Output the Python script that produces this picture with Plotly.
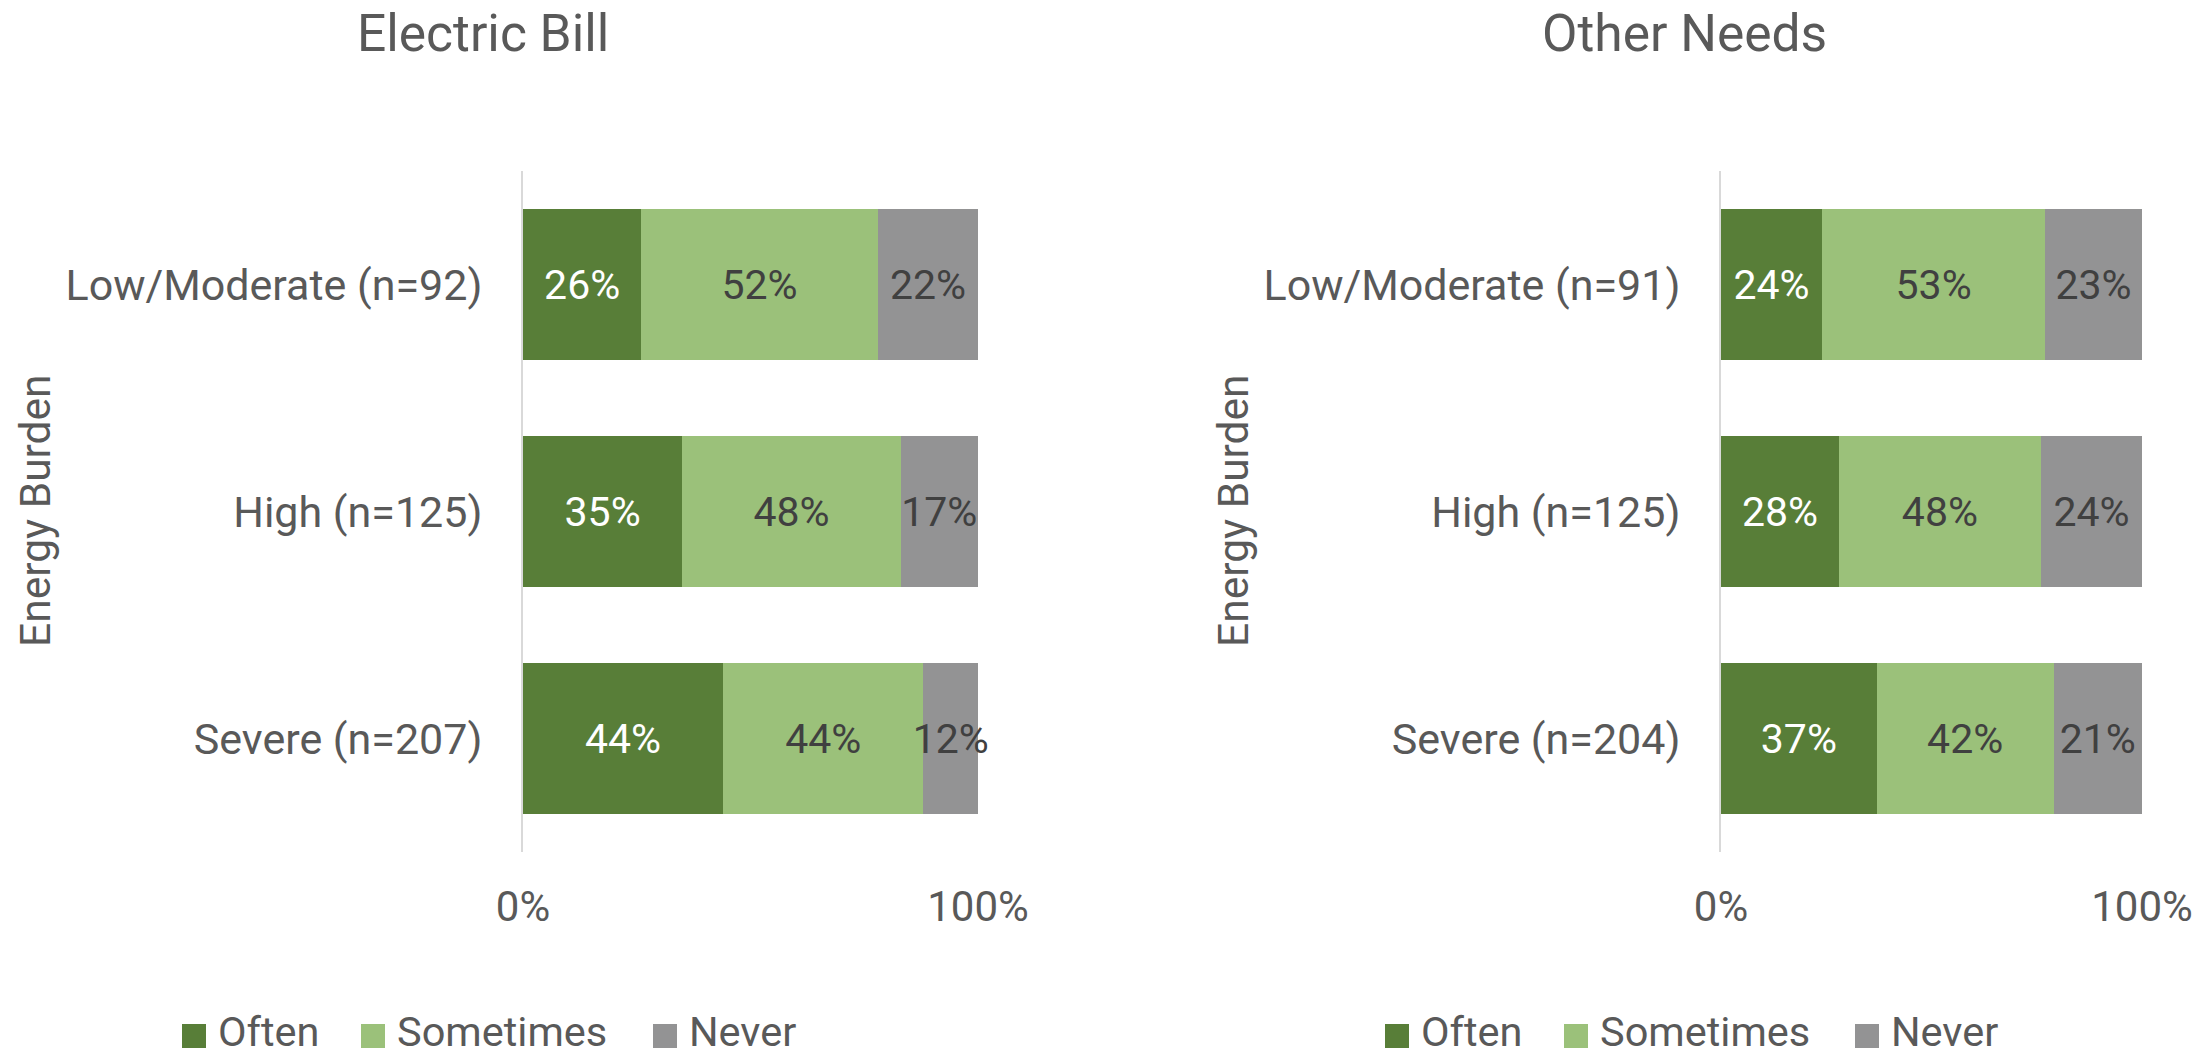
import plotly.graph_objects as go

# ---------------- data ----------------
categories = ["Low/Moderate (n=92)", "High (n=125)", "Severe (n=207)"]
categories_other = ["Low/Moderate (n=91)", "High (n=125)", "Severe (n=204)"]
series_names = ["Often", "Sometimes", "Never"]

electric_often = [26, 35, 44]
electric_sometimes = [52, 48, 44]
electric_never = [22, 17, 12]

other_often = [24, 28, 37]
other_sometimes = [53, 48, 42]
other_never = [23, 24, 21]

panel_titles = ["Electric Bill", "Other Needs"]
y_title = "Energy Burden"
x_tickvals = [0, 100]
x_ticktext = ["0%", "100%"]

# ---------------- style ----------------
W, H = 2198, 1051
FONT = "Roboto, 'Open Sans', Arial, sans-serif"
colors = ["#587E38", "#9BC17A", "#939394"]
label_colors = ["#FFFFFF", "#404040", "#404040"]
text_gray = "#595959"


def px(x):
    return x / W


def py(y):
    return 1 - y / H


fig = go.Figure()

panels = [
    (categories, [electric_often, electric_sometimes, electric_never], "x", "y"),
    (categories_other, [other_often, other_sometimes, other_never], "x2", "y2"),
]

for cats, vals, xa, ya in panels:
    for name, v, c, lc in zip(series_names, vals, colors, label_colors):
        fig.add_trace(go.Bar(
            y=cats, x=v, name=name, orientation="h",
            marker=dict(color=c, line=dict(width=0)),
            text=[f"{n}%" for n in v],
            textposition="inside", insidetextanchor="middle",
            textangle=0, constraintext="none", cliponaxis=False,
            textfont=dict(family=FONT, size=41, color=lc),
            xaxis=xa, yaxis=ya, showlegend=False,
            hoverinfo="skip",
        ))

ydom = [py(852), py(171)]
xaxis_common = dict(
    range=[0, 100], tickvals=x_tickvals, ticktext=x_ticktext,
    showgrid=False, zeroline=False, showline=False, ticks="",
    tickfont=dict(family=FONT, size=42, color=text_gray),
    ticklabelstandoff=26, automargin=False, fixedrange=True,
)
yaxis_common = dict(
    range=[2.5, -0.5], showgrid=False, zeroline=False,
    showline=True, linecolor="#D9D9D9", linewidth=2, ticks="",
    tickfont=dict(family=FONT, size=43, color=text_gray),
    ticklabelstandoff=30, automargin=False, fixedrange=True,
)

fig.update_layout(
    width=W, height=H,
    margin=dict(l=0, r=0, t=0, b=0),
    paper_bgcolor="white", plot_bgcolor="white",
    barmode="stack", bargap=0.337,
    font=dict(family=FONT, color=text_gray),
    showlegend=False,
    xaxis=dict(domain=[px(523), px(978)], anchor="y", **xaxis_common),
    xaxis2=dict(domain=[px(1721), px(2142)], anchor="y2", **xaxis_common),
    yaxis=dict(domain=ydom, anchor="x", **yaxis_common),
    yaxis2=dict(domain=ydom, anchor="x2", **yaxis_common),
)

annotations = []
shapes = []

# panel titles
for title, cx in zip(panel_titles, [483, 1684]):
    annotations.append(dict(
        text=title, x=px(cx), y=py(34), xref="paper", yref="paper",
        xanchor="center", yanchor="middle", showarrow=False,
        font=dict(family=FONT, size=51.5, color=text_gray),
    ))

# y axis titles
for cx in [36, 1234]:
    annotations.append(dict(
        text=y_title, x=px(cx), y=py(511), xref="paper", yref="paper",
        xanchor="center", yanchor="middle", showarrow=False, textangle=-90,
        font=dict(family=FONT, size=42.5, color=text_gray),
    ))

# legends (one under each panel)
legend_square_x = [[182, 361, 653], [1385, 1564, 1855]]
for sq_xs in legend_square_x:
    for name, c, sx in zip(series_names, colors, sq_xs):
        shapes.append(dict(
            type="rect", xref="paper", yref="paper",
            x0=px(sx), x1=px(sx + 24), y0=py(1048), y1=py(1024),
            fillcolor=c, line=dict(width=0),
        ))
        annotations.append(dict(
            text=name, x=px(sx + 34), y=py(1031), xref="paper", yref="paper",
            xanchor="left", yanchor="middle", showarrow=False,
            font=dict(family=FONT, size=41.5, color=text_gray),
        ))

fig.update_layout(annotations=annotations, shapes=shapes)

fig.write_html("out.html", config={"displayModeBar": False})
